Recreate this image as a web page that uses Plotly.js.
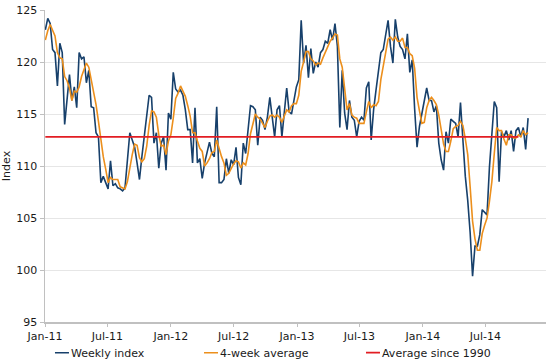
<!DOCTYPE html>
<html><head><meta charset="utf-8">
<script src="https://cdn.plot.ly/plotly-3.0.1.min.js"></script>
<style>html,body{margin:0;padding:0;background:#fff}#chart{width:550px;height:363px}</style>
</head><body><div id="chart"></div>
<script>
const startDate = '2011-01-02';
const weeklyIndex = [
123.1,124.2,123.7,121.2,120.9,117.7,121.8,120.9,114.0,116.1,
118.8,116.3,117.6,115.6,120.9,120.3,120.5,118.0,119.2,115.7,
115.6,113.2,112.8,108.4,109.0,108.4,107.8,110.5,108.1,108.3,
107.9,107.8,107.6,107.9,110.8,113.2,112.5,111.8,110.3,108.7,
110.9,112.8,115.1,116.8,116.6,112.2,113.2,109.8,112.2,112.8,
109.6,115.1,114.5,119.0,117.4,117.1,117.3,116.8,115.4,113.5,
113.5,110.3,115.6,110.3,110.7,108.8,110.3,111.2,112.3,111.2,
110.9,115.7,108.4,108.4,108.7,110.7,109.3,110.6,110.1,111.8,
108.9,108.2,112.2,111.2,113.2,115.8,115.7,115.4,112.0,114.7,
114.4,113.5,114.7,116.6,114.7,112.8,115.4,115.8,112.8,115.4,
117.5,115.2,115.0,116.3,117.6,118.3,124.0,119.9,121.6,118.5,
121.3,118.9,120.0,119.5,120.9,121.2,122.0,121.8,123.1,122.1,
123.7,121.5,113.7,119.2,115.1,113.5,116.3,114.7,114.4,112.8,
114.3,114.7,114.4,117.5,118.1,112.5,115.4,117.3,119.4,120.9,
121.2,122.8,124.0,121.5,119.9,124.1,122.4,121.5,121.2,120.3,
122.7,119.0,120.2,115.5,111.8,113.8,115.1,116.1,117.5,116.3,
116.3,115.2,115.8,112.2,110.6,109.6,113.3,112.2,114.5,114.3,
114.1,112.8,116.1,112.5,109.0,106.7,103.6,99.4,102.3,102.3,
103.4,105.8,105.5,105.3,109.9,113.2,116.2,115.6,108.5,113.3,
112.8,113.4,112.5,113.4,111.4,113.4,113.7,112.8,113.7,111.6,
114.6];
const fourWeekAverage = [
122.1,123.0,123.6,123.1,122.5,120.9,120.4,120.3,118.6,118.2,
117.5,116.3,117.2,117.1,117.6,118.6,119.3,119.9,119.5,118.4,
117.1,115.9,114.3,112.5,110.9,109.7,108.4,108.9,108.7,108.7,
108.7,108.0,107.9,107.8,108.5,109.9,111.1,112.1,112.0,110.8,
110.4,110.7,111.9,113.9,115.3,115.2,114.7,113.0,111.9,112.0,
111.1,112.4,113.0,114.6,116.5,117.0,117.7,117.2,116.7,115.8,
114.8,113.2,113.2,112.4,111.7,111.4,110.0,110.3,110.7,111.3,
111.4,112.5,111.6,110.9,110.3,109.1,109.3,109.8,110.2,110.5,
110.4,109.8,110.3,110.1,111.2,113.1,114.0,115.0,114.7,114.5,
114.1,113.7,114.3,114.8,114.9,114.7,114.9,114.7,114.2,114.9,
115.4,115.2,115.8,116.0,116.0,116.8,119.1,120.0,121.0,121.0,
120.3,120.1,119.7,119.9,119.8,120.4,120.9,121.5,122.0,122.3,
122.7,122.6,120.3,119.5,117.4,115.4,116.0,114.9,114.7,114.6,
114.1,114.1,114.1,115.2,116.2,115.6,115.9,115.8,116.2,118.3,
119.7,121.1,122.2,122.4,122.1,122.4,122.0,122.0,122.3,121.4,
121.4,120.8,120.6,119.4,116.6,115.3,114.1,114.2,115.6,116.3,
116.6,116.3,115.9,114.9,113.5,112.1,111.4,111.4,112.4,113.6,
113.8,113.9,114.3,113.9,112.6,111.1,108.0,104.7,103.0,101.9,
101.9,103.5,104.3,105.0,106.6,108.5,111.2,113.7,113.4,113.4,
112.6,112.0,113.0,113.0,112.7,112.7,113.0,112.8,113.4,113.0,
113.2];
const avgSince1990 = 112.8;
const avgLineDates = ['2011-01-02', '2014-10-05'];
const tickDates = ['2011-01-01','2011-07-01','2012-01-01','2012-07-01','2013-01-01','2013-07-01','2014-01-01','2014-07-01'];
const tickLabels = ['Jan-11','Jul-11','Jan-12','Jul-12','Jan-13','Jul-13','Jan-14','Jul-14'];
const seriesNames = ['Weekly index', '4-week average', 'Average since 1990'];

// weekly dates from the first observation
const t0 = Date.parse(startDate + 'T00:00:00Z');
const weekDates = weeklyIndex.map((_, i) => new Date(t0 + i * 7 * 86400000).toISOString().slice(0, 10));

const traces = [
  {x: weekDates, y: weeklyIndex, name: seriesNames[0], type: 'scatter', mode: 'lines',
   line: {color: '#17406b', width: 1.6}, legend: 'legend'},
  {x: weekDates, y: fourWeekAverage, name: seriesNames[1], type: 'scatter', mode: 'lines',
   line: {color: '#ec8f1c', width: 1.6}, legend: 'legend2'},
  {x: avgLineDates, y: [avgSince1990, avgSince1990], name: seriesNames[2], type: 'scatter', mode: 'lines',
   line: {color: '#e21d23', width: 1.8}, legend: 'legend3'}
];

const legBase = {orientation: 'h', yanchor: 'top', y: -0.052, xanchor: 'left',
  font: {size: 11, color: '#1a1a1a'}, bgcolor: 'rgba(0,0,0,0)', borderwidth: 0};

const layout = {
  width: 550, height: 363,
  margin: {l: 45, r: 4, t: 10, b: 41, autoexpand: false},
  paper_bgcolor: '#ffffff', plot_bgcolor: '#ffffff',
  font: {family: 'DejaVu Sans, Verdana, sans-serif', size: 11, color: '#1a1a1a'},
  showlegend: true,
  xaxis: {type: 'date', range: ['2011-01-01', '2014-12-24'], tickmode: 'array',
    tickvals: tickDates, ticktext: tickLabels, showgrid: false, showline: true,
    linecolor: '#c0c0c0', linewidth: 1.5, ticks: 'outside', ticklen: 3, tickcolor: '#c0c0c0',
    zeroline: false, tickfont: {size: 11}, automargin: false},
  yaxis: {range: [95, 125], tick0: 95, dtick: 5, showgrid: true, gridcolor: '#e6e6e6', gridwidth: 1,
    showline: true, linecolor: '#c0c0c0', linewidth: 1.5, ticks: 'outside', ticklen: 4,
    tickcolor: '#c0c0c0', zeroline: false, tickfont: {size: 11}, automargin: false,
    title: {text: 'Index', font: {size: 11}, standoff: 6}},
  legend: Object.assign({}, legBase, {x: -0.028}),
  legend2: Object.assign({}, legBase, {x: 0.2695}),
  legend3: Object.assign({}, legBase, {x: 0.5928})
};

Plotly.newPlot('chart', traces, layout, {displayModeBar: false, staticPlot: true}).then(function (gd) {
  gd.querySelectorAll('.legendlines path').forEach(function (p) { p.setAttribute('d', 'M24,0h14'); });
});
</script>
</body></html>
